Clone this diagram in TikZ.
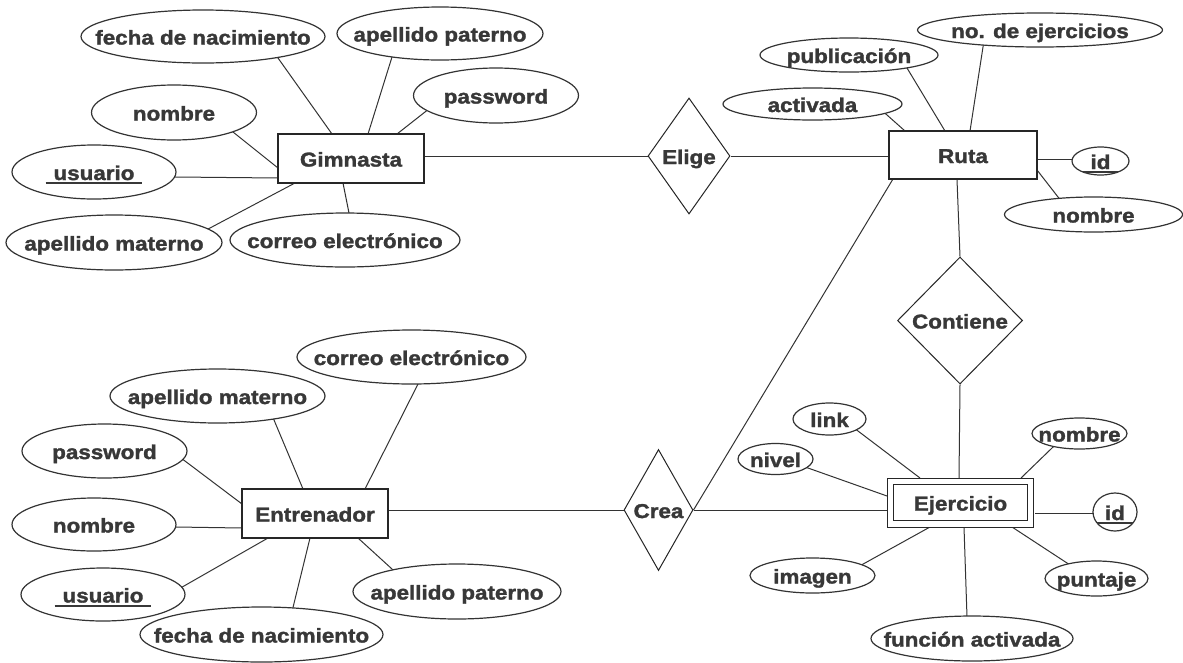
\documentclass[tikz,border=0pt]{standalone}
\usepackage{fontspec}
\setmainfont{Liberation Sans}[UprightFont={* Bold}, BoldFont={* Bold}, FakeStretch=1.12, FakeBold=1.6]
\usetikzlibrary{shapes.geometric,calc}
\pgfdeclarelayer{background}
\pgfsetlayers{background,main}
\newcommand{\tx}[1]{\makebox[0pt]{#1}}
\newcommand{\ulx}[1]{\setbox0=\hbox{#1}\hbox{\kern-8pt\rlap{\rule[-4pt]{\dimexpr\wd0+16pt\relax}{2pt}}\kern8pt\box0}}
\newcommand{\cnx}[4]{\draw[conn] ([shift={#2}]#1.center) -- ($([shift={#2}]#1.center)!1.12!([shift={#4}]#3.center)$);}
\tikzset{
  every node/.style={font=\fontsize{20}{24}\selectfont, text=black!78, inner sep=0pt, text height=16pt, text depth=0pt},
  sz/.style 2 args={minimum width=#1pt, minimum height=#2pt},
  attr/.style={draw=black!80, line width=1.2pt, ellipse, fill=white},
  ent/.style={draw=black!85, line width=1.2pt, rectangle, fill=white},
  weak/.style={draw=black!85, line width=1pt, rectangle, fill=white, double=white, double distance=5.5pt},
  rel/.style={draw=black!85, line width=1pt, diamond, fill=white},
  conn/.style={draw=black!80, line width=1pt},
}
\begin{document}
\begin{tikzpicture}[x=1pt,y=-1pt]
\useasboundingbox (0,0) rectangle (1183,662);

% Gimnasta
\node[ent, sz={146}{49}] (g) at (351,158.5) {\tx{Gimnasta}};
\node[attr, sz={244}{53}] (ga1) at (203,36.5) {\tx{fecha de nacimiento}};
\node[attr, sz={206}{53}] (ga2) at (440,33.5) {\tx{apellido paterno}};
\node[attr, sz={165}{55}] (ga3) at (496,95.5) {\tx{password}};
\node[attr, sz={165}{55}] (ga4) at (174,112.5) {\tx{nombre}};
\node[attr, sz={164}{54}] (ga5) at (94,172) {\tx{\ulx{usuario}}};
\node[attr, sz={216}{55}] (ga6) at (114,242.5) {\tx{apellido materno}};
\node[attr, sz={230}{54}] (ga7) at (345,240) {\tx{correo electrónico}};

% Elige
\node[rel, sz={82}{116}] (e) at (689,156) {\tx{Elige}};

% Ruta
\node[ent, sz={148}{48}] (r) at (963,155) {\tx{Ruta}};
\node[attr, sz={178}{34}] (ra1) at (849,55) {\tx{publicación}};
\node[attr, sz={245}{34}] (ra2) at (1040,30) {\tx{no. de ejercicios}};
\node[attr, sz={179}{32}] (ra3) at (812.5,104) {\tx{activada}};
\node[attr, sz={57}{28}] (ra4) at (1100.5,161) {\tx{\ulx{id}}};
\node[attr, sz={178}{35}] (ra5) at (1093.5,214.5) {\tx{nombre}};

% Contiene
\node[rel, sz={125}{127}] (ct) at (960,320.5) {\tx{Contiene}};

% Crea
\node[rel, sz={69}{121}] (cr) at (658.5,510) {\tx{Crea}};

% Entrenador
\node[ent, sz={146}{49}] (en) at (315,513.5) {\tx{Entrenador}};
\node[attr, sz={229}{54}] (ea1) at (411.5,357) {\tx{correo electrónico}};
\node[attr, sz={215}{54}] (ea2) at (217.5,396) {\tx{apellido materno}};
\node[attr, sz={165}{54}] (ea3) at (104.5,451) {\tx{password}};
\node[attr, sz={164}{53}] (ea4) at (94,524.5) {\tx{nombre}};
\node[attr, sz={164}{53}] (ea5) at (103,594.5) {\tx{\ulx{usuario}}};
\node[attr, sz={243}{55}] (ea6) at (261.5,634.5) {\tx{fecha de nacimiento}};
\node[attr, sz={208}{55}] (ea7) at (457,591.5) {\tx{apellido paterno}};

% Ejercicio
\node[weak, sz={140}{42.5}] (ej) at (960.5,502.5) {\tx{Ejercicio}};
\node[attr, sz={73}{32}] (ej1) at (829.5,419) {\tx{link}};
\node[attr, sz={75}{31}] (ej2) at (775.5,459) {\tx{nivel}};
\node[attr, sz={95}{31}] (ej3) at (1079.5,433.5) {\tx{nombre}};
\node[attr, sz={44}{38}] (ej4) at (1115,512) {\tx{\ulx{id}}};
\node[attr, sz={125}{35}] (ej5) at (812.5,575.5) {\tx{imagen}};
\node[attr, sz={103}{35}] (ej6) at (1096.5,578.5) {\tx{puntaje}};
\node[attr, sz={202}{45}] (ej7) at (972,638.5) {\tx{función activada}};

\begin{pgfonlayer}{background}
\fill[white] (0,0) rectangle (1183,662);
% Gimnasta attributes
\cnx{g}{(-19,-24.5)}{ga1}{(75,21.5)}
\cnx{g}{(17,-24.5)}{ga2}{(-48,23.5)}
\cnx{g}{(46,-24.5)}{ga3}{(-71,16.5)}
\cnx{g}{(-73,9.5)}{ga4}{(59,19.5)}
\cnx{g}{(-73,19.5)}{ga5}{(82,5)}
\cnx{g}{(-56,24.5)}{ga6}{(96,-14.5)}
\cnx{g}{(-8,24.5)}{ga7}{(4,-27)}
% relationships
\draw[conn] (e.west -| g.east) -- (e.west);
\draw[conn] (e.east) -- (e.east -| r.west);
\draw[conn] ([xshift=-6pt]r.south) -- (ct.north);
\draw[conn] ([shift={(-70,24)}]r.center) -- (cr.east);
\draw[conn] (cr.west -| en.east) -- (cr.west);
\draw[conn] (cr.east) -- (cr.east -| ej.west);
\draw[conn] (ct.south) -- ([shift={(-1.5,-24.5)}]ej.center);
% Ruta attributes
\cnx{r}{(-18,-24)}{ra1}{(58,13)}
\cnx{r}{(7,-24)}{ra2}{(-57,17)}
\cnx{r}{(-58,-24)}{ra3}{(74.5,11)}
\cnx{r}{(74,4)}{ra4}{(-28,-2)}
\cnx{r}{(74,15)}{ra5}{(-35.5,-17.5)}
% Entrenador attributes
\cnx{en}{(50,-24.5)}{ea1}{(6.5,27)}
\cnx{en}{(-12,-24.5)}{ea2}{(56.5,24)}
\cnx{en}{(-73,-9.5)}{ea3}{(80.5,10)}
\cnx{en}{(-73,14.5)}{ea4}{(82,2.5)}
\cnx{en}{(-47,24.5)}{ea5}{(81,-8.5)}
\cnx{en}{(-5,24.5)}{ea6}{(31.5,-27)}
\cnx{en}{(43,24.5)}{ea7}{(-65,-22.5)}
% Ejercicio attributes
\cnx{ej}{(-40.5,-24.5)}{ej1}{(28.5,12)}
\cnx{ej}{(-73.5,-6.5)}{ej2}{(32.5,9)}
\cnx{ej}{(60.5,-24.5)}{ej3}{(-27.5,14.5)}
\cnx{ej}{(74.5,10.5)}{ej4}{(-22,1)}
\cnx{ej}{(-30.5,24.5)}{ej5}{(52.5,-12.5)}
\cnx{ej}{(51.5,24.5)}{ej6}{(-29.5,-15.5)}
\cnx{ej}{(3.5,24.5)}{ej7}{(-5,-21.5)}
\end{pgfonlayer}
\end{tikzpicture}
\end{document}
